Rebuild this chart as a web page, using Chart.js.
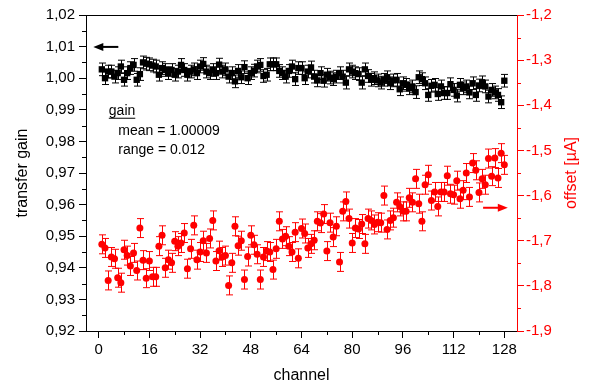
<!DOCTYPE html>
<html>
<head>
<meta charset="utf-8">
<script src="https://cdn.jsdelivr.net/npm/chart.js@4.4.1/dist/chart.umd.min.js"></script>
<style>
  html, body { margin: 0; padding: 0; background: #fff; }
  #wrap { width: 595px; height: 385px; }
</style>
</head>
<body>
<div id="wrap"><canvas id="chart" width="595" height="385"></canvas></div>
<script>
// Transfer gain (left axis) and offset (right axis) per channel

const channels = [
  1, 2, 3, 4, 5, 6, 7, 8, 9, 10, 11, 12, 13, 14, 15, 16,
  17, 18, 19, 20, 21, 22, 23, 24, 25, 26, 27, 28, 29, 30, 31, 32,
  33, 34, 35, 36, 37, 38, 39, 40, 41, 42, 43, 44, 45, 46, 47, 48,
  49, 50, 51, 52, 53, 54, 55, 56, 57, 58, 59, 60, 61, 62, 63, 64,
  65, 66, 67, 68, 69, 70, 71, 72, 73, 74, 75, 76, 77, 78, 79, 80,
  81, 82, 83, 84, 85, 86, 87, 88, 89, 90, 91, 92, 93, 94, 95, 96,
  97, 98, 99, 100, 101, 102, 103, 104, 105, 106, 107, 108, 109, 110, 111, 112,
  113, 114, 115, 116, 117, 118, 119, 120, 121, 122, 123, 124, 125, 126, 127, 128
];

const gain = [
  1.0028, 1.0000, 1.0021, 1.0021, 1.0005, 1.0016, 1.0037, 0.9995, 1.0016, 1.0032,
  1.0042, 0.9995, 1.0013, 1.0050, 1.0046, 1.0044, 1.0040, 1.0037, 1.0011, 1.0032,
  1.0026, 1.0016, 1.0026, 1.0011, 1.0021, 1.0042, 1.0026, 1.0011, 1.0021, 1.0028,
  1.0016, 1.0037, 1.0045, 1.0021, 1.0016, 1.0026, 1.0016, 1.0043, 1.0021, 1.0028,
  1.0005, 1.0016, 0.9990, 1.0023, 1.0003, 1.0035, 1.0000, 1.0016, 1.0024, 1.0037,
  1.0042, 1.0007, 1.0011, 1.0044, 1.0044, 1.0044, 1.0023, 1.0016, 1.0005, 1.0023,
  1.0037, 0.9997, 1.0032, 1.0032, 1.0000, 1.0021, 1.0034, 1.0005, 0.9993, 1.0016,
  0.9992, 1.0011, 1.0002, 0.9997, 1.0005, 1.0016, 1.0005, 0.9986, 1.0028, 1.0021,
  1.0016, 1.0013, 0.9986, 1.0028, 1.0007, 0.9995, 1.0000, 0.9993, 0.9986, 0.9995,
  1.0003, 0.9984, 0.9993, 0.9995, 0.9965, 0.9984, 0.9979, 0.9968, 0.9974, 0.9956,
  1.0003, 0.9997, 0.9984, 0.9947, 0.9976, 0.9979, 0.9950, 0.9974, 0.9953, 0.9953,
  0.9981, 0.9963, 0.9945, 0.9979, 0.9968, 0.9974, 0.9955, 0.9984, 0.9947, 0.9977,
  0.9987, 0.9974, 0.9942, 0.9963, 0.9955, 0.9947, 0.9924, 0.9992
];

const offset = [
  -1.708, -1.716, -1.788, -1.736, -1.740, -1.782, -1.793, -1.720, -1.733, -1.756,
  -1.727, -1.766, -1.672, -1.743, -1.783, -1.745, -1.780, -1.780, -1.712, -1.688,
  -1.760, -1.742, -1.749, -1.701, -1.712, -1.705, -1.683, -1.762, -1.718, -1.666,
  -1.742, -1.725, -1.700, -1.727, -1.695, -1.655, -1.745, -1.722, -1.736, -1.733,
  -1.799, -1.749, -1.668, -1.711, -1.700, -1.786, -1.735, -1.688, -1.709, -1.730,
  -1.786, -1.736, -1.723, -1.725, -1.764, -1.718, -1.657, -1.696, -1.690, -1.712,
  -1.725, -1.681, -1.739, -1.673, -1.684, -1.716, -1.707, -1.699, -1.657, -1.661,
  -1.641, -1.723, -1.660, -1.692, -1.668, -1.747, -1.635, -1.613, -1.651, -1.705,
  -1.672, -1.674, -1.663, -1.707, -1.651, -1.655, -1.664, -1.659, -1.660, -1.600,
  -1.675, -1.655, -1.649, -1.615, -1.624, -1.635, -1.635, -1.605, -1.615, -1.563,
  -1.618, -1.657, -1.576, -1.554, -1.611, -1.592, -1.624, -1.592, -1.592, -1.556,
  -1.596, -1.598, -1.567, -1.607, -1.588, -1.550, -1.603, -1.528, -1.544, -1.593,
  -1.563, -1.576, -1.518, -1.557, -1.517, -1.561, -1.506, -1.532
];

// error bar half widths
const gainErr = 0.002;
const offsetErr = 0.021;

// axis ranges / tick steps
const xRange = [-4, 132];
const xStep = 16;
const gainRange = [0.92, 1.02];
const gainStep = 0.01;
const offsetRange = [-1.9, -1.2];
const offsetStep = 0.1;

const FONT = '"Liberation Sans", Arial, sans-serif';
const RED = '#ff0000';

// Error bars drawn under the points
const errorBarPlugin = {
  id: 'errorBars',
  beforeDatasetsDraw(chart) {
    const ctx = chart.ctx;
    chart.data.datasets.forEach((ds, i) => {
      const meta = chart.getDatasetMeta(i);
      const xs = chart.scales[meta.xAxisID];
      const ys = chart.scales[meta.yAxisID];
      ctx.save();
      ctx.strokeStyle = ds.borderColor;
      ctx.lineWidth = 1;
      ds.data.forEach(p => {
        const x = Math.round(xs.getPixelForValue(p.x)) + 0.5;
        const yt = ys.getPixelForValue(p.y + ds.errorBar);
        const yb = ys.getPixelForValue(p.y - ds.errorBar);
        ctx.beginPath();
        ctx.moveTo(x, yt); ctx.lineTo(x, yb);
        ctx.moveTo(x - 3.5, yt); ctx.lineTo(x + 3.5, yt);
        ctx.moveTo(x - 3.5, yb); ctx.lineTo(x + 3.5, yb);
        ctx.stroke();
      });
      ctx.restore();
    });
  }
};

// Minor ticks, top frame line, right-hand title, arrows and the gain note
const decorPlugin = {
  id: 'decor',
  afterDraw(chart) {
    const ctx = chart.ctx;
    const area = chart.chartArea;
    const xs = chart.scales.x, ys = chart.scales.y, ys1 = chart.scales.y1;
    ctx.save();

    // top frame
    ctx.strokeStyle = '#000';
    ctx.lineWidth = 1;
    ctx.beginPath();
    ctx.moveTo(area.left, area.top + 0.5);
    ctx.lineTo(area.right, area.top + 0.5);
    ctx.stroke();

    // minor ticks
    ctx.beginPath();
    for (let v = 8; v < xRange[1]; v += xStep) {
      const px = Math.round(xs.getPixelForValue(v)) + 0.5;
      ctx.moveTo(px, area.bottom); ctx.lineTo(px, area.bottom + 4);
    }
    for (let k = 0; k < 10; k++) {
      const py = Math.round(ys.getPixelForValue(gainRange[0] + gainStep * (k + 0.5))) + 0.5;
      ctx.moveTo(area.left - 4, py); ctx.lineTo(area.left, py);
    }
    ctx.stroke();
    ctx.strokeStyle = RED;
    ctx.beginPath();
    for (let k = 0; k < 7; k++) {
      const py = Math.round(ys1.getPixelForValue(offsetRange[0] + offsetStep * (k + 0.5))) + 0.5;
      ctx.moveTo(area.right, py); ctx.lineTo(area.right + 4, py);
    }
    ctx.stroke();

    // right axis title, reading bottom to top
    ctx.fillStyle = RED;
    ctx.font = '16px ' + FONT;
    ctx.textAlign = 'center';
    ctx.textBaseline = 'middle';
    ctx.translate(572, (area.top + area.bottom) / 2);
    ctx.rotate(-Math.PI / 2);
    ctx.fillText('offset [\u00b5A]', 0, 0);
    ctx.setTransform(1, 0, 0, 1, 0, 0);

    // arrows
    function arrow(x0, x1, y, color) {
      const dir = Math.sign(x1 - x0);
      ctx.strokeStyle = color;
      ctx.fillStyle = color;
      ctx.lineWidth = 2;
      ctx.beginPath();
      ctx.moveTo(x0, y); ctx.lineTo(x1 - dir * 8, y);
      ctx.stroke();
      ctx.beginPath();
      ctx.moveTo(x1, y);
      ctx.lineTo(x1 - dir * 10, y - 4);
      ctx.lineTo(x1 - dir * 10, y + 4);
      ctx.closePath();
      ctx.fill();
    }
    arrow(xs.getPixelForValue(6.2), xs.getPixelForValue(-1.7), ys.getPixelForValue(1.0099), '#000');
    arrow(xs.getPixelForValue(121.3), xs.getPixelForValue(129.1), ys1.getPixelForValue(-1.627), RED);

    // gain note
    ctx.fillStyle = '#000';
    ctx.textAlign = 'left';
    ctx.textBaseline = 'middle';
    ctx.font = '14px ' + FONT;
    const gx = xs.getPixelForValue(3.2), gy = ys.getPixelForValue(0.9897);
    ctx.fillText('gain', gx, gy);
    const w = ctx.measureText('gain').width;
    ctx.lineWidth = 1;
    ctx.strokeStyle = '#000';
    ctx.beginPath();
    ctx.moveTo(gx, gy + 7.5); ctx.lineTo(gx + w, gy + 7.5);
    ctx.stroke();
    const mx = xs.getPixelForValue(6.2);
    ctx.fillText('mean = 1.00009', mx, ys.getPixelForValue(0.98337));
    ctx.fillText('range = 0.012', mx, ys.getPixelForValue(0.97737));

    ctx.restore();
  }
};

const gainData = channels.map((c, i) => ({ x: c, y: gain[i] }));
const offsetData = channels.map((c, i) => ({ x: c, y: offset[i] }));

const ctx = document.getElementById('chart').getContext('2d');
new Chart(ctx, {
  type: 'scatter',
  data: {
    datasets: [{
      label: 'offset',
      data: offsetData,
      yAxisID: 'y1',
      errorBar: offsetErr,
      pointStyle: 'circle',
      pointRadius: 3.5,
      backgroundColor: RED,
      borderColor: RED,
      borderWidth: 0
    }, {
      label: 'gain',
      data: gainData,
      yAxisID: 'y',
      errorBar: gainErr,
      pointStyle: 'rect',
      pointRadius: 4.5,
      backgroundColor: '#000',
      borderColor: '#000',
      borderWidth: 0
    }]
  },
  options: {
    responsive: false,
    devicePixelRatio: 1,
    animation: false,
    layout: { padding: { top: 15, left: 0, right: 0, bottom: 0 } },
    plugins: {
      legend: { display: false },
      tooltip: { enabled: false }
    },
    scales: {
      x: {
        type: 'linear',
        min: xRange[0],
        max: xRange[1],
        afterFit(scale) { scale.height = 54; },
        ticks: {
          stepSize: xStep,
          includeBounds: false,
          padding: 3,
          color: '#000',
          font: { family: FONT, size: 15 }
        },
        grid: { drawOnChartArea: false, tickLength: 7, color: '#000' },
        border: { color: '#000', width: 1 },
        title: {
          display: true,
          text: 'channel',
          color: '#000',
          font: { family: FONT, size: 16 },
          padding: { top: 0, bottom: 0 }
        }
      },
      y: {
        type: 'linear',
        position: 'left',
        min: gainRange[0],
        max: gainRange[1],
        afterFit(scale) { scale.width = 86; },
        ticks: {
          stepSize: gainStep,
          includeBounds: false,
          padding: 4,
          color: '#000',
          font: { family: FONT, size: 15 },
          callback: v => v.toFixed(2).replace('.', ',')
        },
        grid: { drawOnChartArea: false, tickLength: 7, color: '#000' },
        border: { color: '#000', width: 1 },
        title: {
          display: true,
          text: 'transfer gain',
          color: '#000',
          font: { family: FONT, size: 16 },
          padding: { top: 13, bottom: 0 }
        }
      },
      y1: {
        type: 'linear',
        position: 'right',
        min: offsetRange[0],
        max: offsetRange[1],
        afterFit(scale) { scale.width = 78; },
        ticks: {
          stepSize: offsetStep,
          includeBounds: false,
          padding: 2,
          color: RED,
          font: { family: FONT, size: 15 },
          callback: v => v.toFixed(1).replace('.', ',')
        },
        grid: { drawOnChartArea: false, tickLength: 7, color: RED },
        border: { color: RED, width: 1 }
      }
    }
  },
  plugins: [errorBarPlugin, decorPlugin]
});
</script>
</body>
</html>
